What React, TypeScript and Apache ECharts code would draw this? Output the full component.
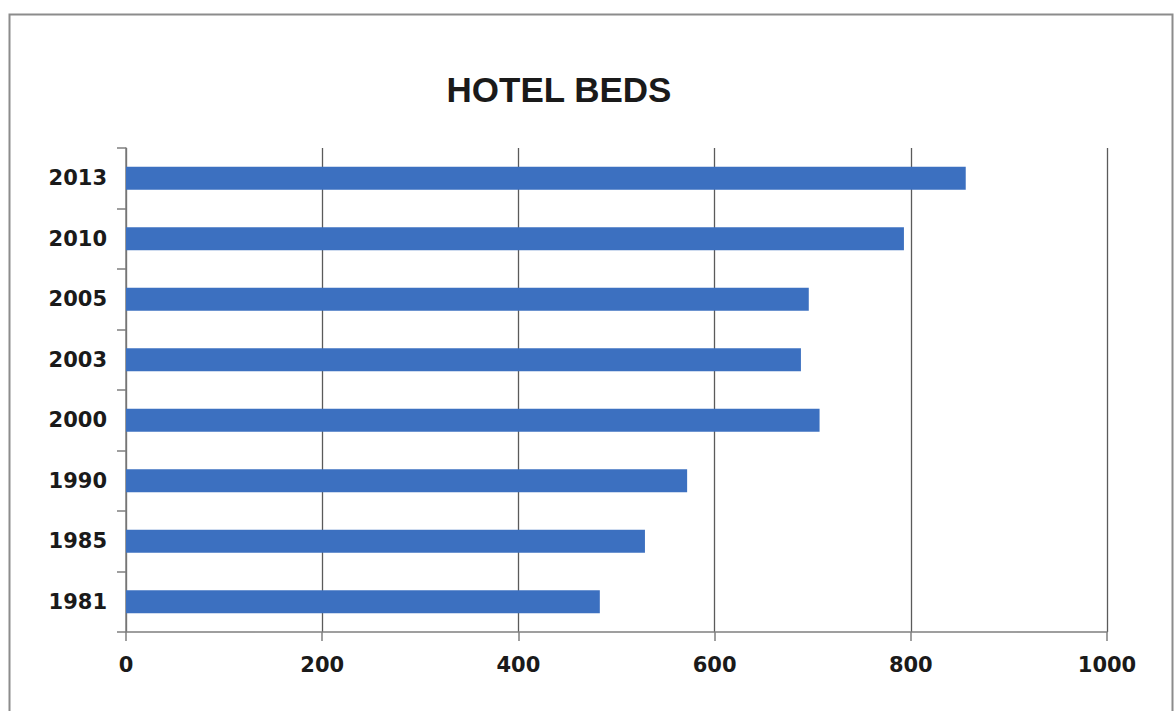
import React, { useEffect, useRef } from "react";
import * as echarts from "echarts";

const categories = ["1981", "1985", "1990", "2000", "2003", "2005", "2010", "2013"];
const beds = [483, 529, 572, 707, 688, 696, 793, 856];
const xTicks = { min: 0, max: 1000, interval: 200 };
const title = "HOTEL BEDS";

export default function App() {
  const ref = useRef<HTMLDivElement>(null);
  useEffect(() => {
    if (!ref.current) return;
    const chart = echarts.init(ref.current, undefined, { renderer: "svg" });
    const font = "Liberation Sans, Arial, sans-serif";
    const labelFont = "DejaVu Sans, sans-serif";
    chart.setOption({
      animation: false,
      backgroundColor: "#ffffff",
      title: {
        text: title,
        left: 554,
        textAlign: "center",
        top: 67,
        textStyle: { fontFamily: font, fontWeight: "bold", fontSize: 35, color: "#1a1a1a" },
      },
      graphic: [
        {
          type: "rect",
          shape: { x: 9.5, y: 14.5, width: 1163, height: 700 },
          style: { fill: "none", stroke: "#8c8c8c", lineWidth: 2 },
          silent: true,
        },
      ],
      grid: { left: 126, right: 67, top: 148, bottom: 79 },
      xAxis: {
        type: "value",
        min: xTicks.min,
        max: xTicks.max,
        interval: xTicks.interval,
        axisLine: { show: true, lineStyle: { color: "#7f7f7f", width: 1.5 } },
        axisTick: { show: true, length: 9, lineStyle: { color: "#7f7f7f", width: 1.5 } },
        splitLine: { show: true, lineStyle: { color: "#5a5a5a", width: 1.3 } },
        axisLabel: {
          margin: 22,
          formatter: (v: number) => String(v),
          fontFamily: labelFont,
          fontWeight: "bold",
          fontSize: 21,
          color: "#1a1a1a",
        },
      },
      yAxis: {
        type: "category",
        data: categories,
        axisLine: { show: true, lineStyle: { color: "#7f7f7f", width: 1.5 } },
        axisTick: { show: true, length: 9, lineStyle: { color: "#7f7f7f", width: 1.5 } },
        axisLabel: {
          margin: 19,
          fontFamily: labelFont,
          fontWeight: "bold",
          fontSize: 21,
          color: "#1a1a1a",
        },
      },
      series: [
        {
          type: "bar",
          data: beds,
          barWidth: 23,
          itemStyle: { color: "#3c70c0" },
        },
      ],
    });
    return () => chart.dispose();
  }, []);
  return (
    <div
      ref={ref}
      style={{ position: "fixed", left: 0, top: 0, width: 1174, height: 711 }}
    />
  );
}
